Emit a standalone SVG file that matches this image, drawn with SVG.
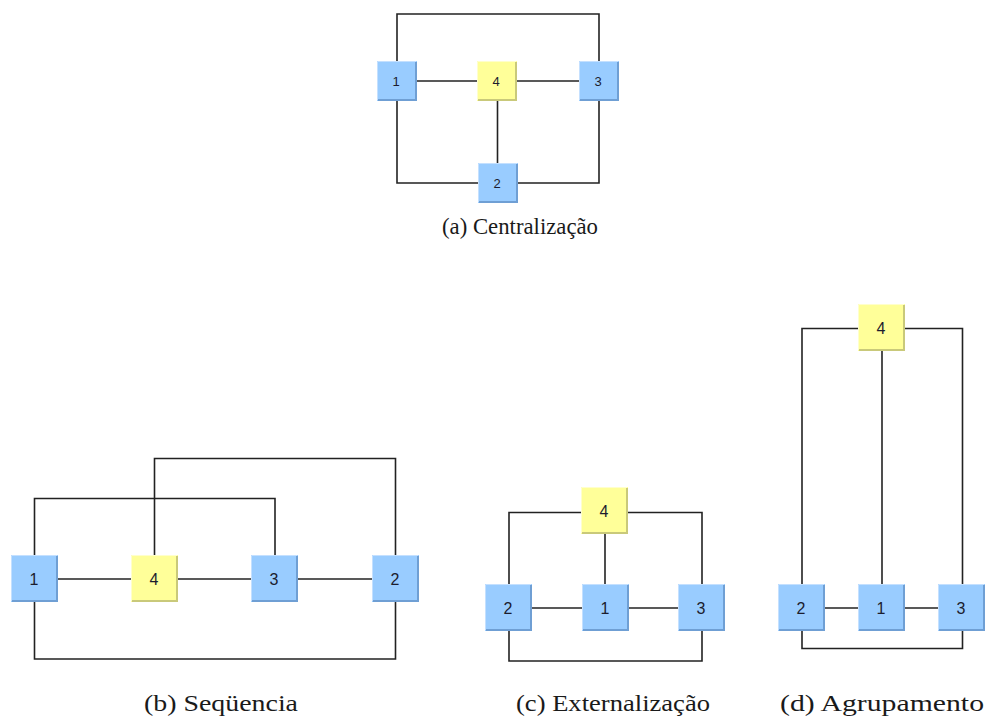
<svg xmlns="http://www.w3.org/2000/svg" width="987" height="720" viewBox="0 0 987 720">
  <defs>
    <style>
      .wire { fill: none; stroke: #222; stroke-width: 1.6; }
      .blue { fill: #99ccff; }
      .yellow { fill: #ffff99; }
      .blue-shade { fill: none; stroke: #6f9fd4; stroke-width: 2; }
      .yellow-shade { fill: none; stroke: #c9c97a; stroke-width: 2; }
      .blue-light { fill: none; stroke: #c4e0ff; stroke-width: 1; }
      .yellow-light { fill: none; stroke: #ffffcc; stroke-width: 1; }
      .num { font-family: "Liberation Sans", Arial, sans-serif; fill: #1c1c2e; text-anchor: middle; dominant-baseline: central; }
      .num-s { font-size: 13px; }
      .num-l { font-size: 16px; }
      .cap { font-family: "Liberation Serif", "DejaVu Serif", serif; font-size: 23px; fill: #1a1a1a; text-anchor: middle; }
    </style>
  </defs>

  <!-- (a) Centralização -->
  <g id="connectors-a">
    <path class="wire" d="M397,61 V14 H599 V61"/>
    <path class="wire" d="M417,81 H477"/>
    <path class="wire" d="M517,81 H579"/>
    <path class="wire" d="M497.5,101 V163"/>
    <path class="wire" d="M397,101 V183 H478"/>
    <path class="wire" d="M518,183 H599 V101"/>
  </g>
  <g id="a-node1">
    <rect class="blue" x="377" y="61" width="40" height="40"/>
    <path class="blue-light" d="M377.5,100 V61.5 H416"/>
    <path class="blue-shade" d="M416,62 V100 H378"/>
    <text class="num num-s" x="396" y="81">1</text>
  </g>
  <g id="a-node4">
    <rect class="yellow" x="477" y="61" width="40" height="40"/>
    <path class="yellow-light" d="M477.5,100 V61.5 H516"/>
    <path class="yellow-shade" d="M516,62 V100 H478"/>
    <text class="num num-s" x="496" y="81">4</text>
  </g>
  <g id="a-node3">
    <rect class="blue" x="579" y="61" width="40" height="40"/>
    <path class="blue-light" d="M579.5,100 V61.5 H618"/>
    <path class="blue-shade" d="M618,62 V100 H580"/>
    <text class="num num-s" x="598" y="81">3</text>
  </g>
  <g id="a-node2">
    <rect class="blue" x="478" y="163" width="40" height="40"/>
    <path class="blue-light" d="M478.5,202 V163.5 H517"/>
    <path class="blue-shade" d="M517,164 V202 H479"/>
    <text class="num num-s" x="497" y="183">2</text>
  </g>
  <text id="caption-a" class="cap" x="520" y="234" textLength="156" lengthAdjust="spacingAndGlyphs">(a) Centralização</text>

  <!-- (b) Seqüencia -->
  <g id="connectors-b">
    <path class="wire" d="M34.5,555 V498.5 H275 V555"/>
    <path class="wire" d="M154.5,555 V458.5 H395.5 V555"/>
    <path class="wire" d="M58,579 H131"/>
    <path class="wire" d="M178,579 H251"/>
    <path class="wire" d="M298,579 H372"/>
    <path class="wire" d="M34.5,602 V659 H395.5 V602"/>
  </g>
  <g id="b-node1">
    <rect class="blue" x="11" y="555" width="47" height="47"/>
    <path class="blue-light" d="M11.5,601 V555.5 H57"/>
    <path class="blue-shade" d="M57,556 V601 H12"/>
    <text class="num num-l" x="34" y="579">1</text>
  </g>
  <g id="b-node4">
    <rect class="yellow" x="131" y="555" width="47" height="47"/>
    <path class="yellow-light" d="M131.5,601 V555.5 H177"/>
    <path class="yellow-shade" d="M177,556 V601 H132"/>
    <text class="num num-l" x="154" y="579">4</text>
  </g>
  <g id="b-node3">
    <rect class="blue" x="251" y="555" width="47" height="47"/>
    <path class="blue-light" d="M251.5,601 V555.5 H297"/>
    <path class="blue-shade" d="M297,556 V601 H252"/>
    <text class="num num-l" x="274" y="579">3</text>
  </g>
  <g id="b-node2">
    <rect class="blue" x="372" y="555" width="47" height="47"/>
    <path class="blue-light" d="M372.5,601 V555.5 H418"/>
    <path class="blue-shade" d="M418,556 V601 H373"/>
    <text class="num num-l" x="395" y="579">2</text>
  </g>
  <text id="caption-b" class="cap" x="221" y="711" textLength="154" lengthAdjust="spacingAndGlyphs">(b) Seqüencia</text>

  <!-- (c) Externalização -->
  <g id="connectors-c">
    <path class="wire" d="M581,512.5 H509 V584"/>
    <path class="wire" d="M628,512.5 H702 V584"/>
    <path class="wire" d="M605,534 V584"/>
    <path class="wire" d="M532,608 H582"/>
    <path class="wire" d="M629,608 H678"/>
    <path class="wire" d="M509,631 V661 H702 V631"/>
  </g>
  <g id="c-node4">
    <rect class="yellow" x="581" y="487" width="47" height="47"/>
    <path class="yellow-light" d="M581.5,533 V487.5 H627"/>
    <path class="yellow-shade" d="M627,488 V533 H582"/>
    <text class="num num-l" x="604" y="511">4</text>
  </g>
  <g id="c-node2">
    <rect class="blue" x="485" y="584" width="47" height="47"/>
    <path class="blue-light" d="M485.5,630 V584.5 H531"/>
    <path class="blue-shade" d="M531,585 V630 H486"/>
    <text class="num num-l" x="508" y="608">2</text>
  </g>
  <g id="c-node1">
    <rect class="blue" x="582" y="584" width="47" height="47"/>
    <path class="blue-light" d="M582.5,630 V584.5 H628"/>
    <path class="blue-shade" d="M628,585 V630 H583"/>
    <text class="num num-l" x="605" y="608">1</text>
  </g>
  <g id="c-node3">
    <rect class="blue" x="678" y="584" width="47" height="47"/>
    <path class="blue-light" d="M678.5,630 V584.5 H724"/>
    <path class="blue-shade" d="M724,585 V630 H679"/>
    <text class="num num-l" x="701" y="608">3</text>
  </g>
  <text id="caption-c" class="cap" x="613" y="711" textLength="194" lengthAdjust="spacingAndGlyphs">(c) Externalização</text>

  <!-- (d) Agrupamento -->
  <g id="connectors-d">
    <path class="wire" d="M858,328.5 H802 V584"/>
    <path class="wire" d="M905,328.5 H962.5 V584"/>
    <path class="wire" d="M882,351 V584"/>
    <path class="wire" d="M825,608 H858"/>
    <path class="wire" d="M905,608 H938"/>
    <path class="wire" d="M802,631 V648.5 H962.5 V631"/>
  </g>
  <g id="d-node4">
    <rect class="yellow" x="858" y="304" width="47" height="47"/>
    <path class="yellow-light" d="M858.5,350 V304.5 H904"/>
    <path class="yellow-shade" d="M904,305 V350 H859"/>
    <text class="num num-l" x="881" y="328">4</text>
  </g>
  <g id="d-node2">
    <rect class="blue" x="778" y="584" width="47" height="47"/>
    <path class="blue-light" d="M778.5,630 V584.5 H824"/>
    <path class="blue-shade" d="M824,585 V630 H779"/>
    <text class="num num-l" x="801" y="608">2</text>
  </g>
  <g id="d-node1">
    <rect class="blue" x="858" y="584" width="47" height="47"/>
    <path class="blue-light" d="M858.5,630 V584.5 H904"/>
    <path class="blue-shade" d="M904,585 V630 H859"/>
    <text class="num num-l" x="881" y="608">1</text>
  </g>
  <g id="d-node3">
    <rect class="blue" x="938" y="584" width="47" height="47"/>
    <path class="blue-light" d="M938.5,630 V584.5 H984"/>
    <path class="blue-shade" d="M984,585 V630 H939"/>
    <text class="num num-l" x="961" y="608">3</text>
  </g>
  <text id="caption-d" class="cap" x="882" y="711" textLength="204" lengthAdjust="spacingAndGlyphs">(d) Agrupamento</text>
</svg>
